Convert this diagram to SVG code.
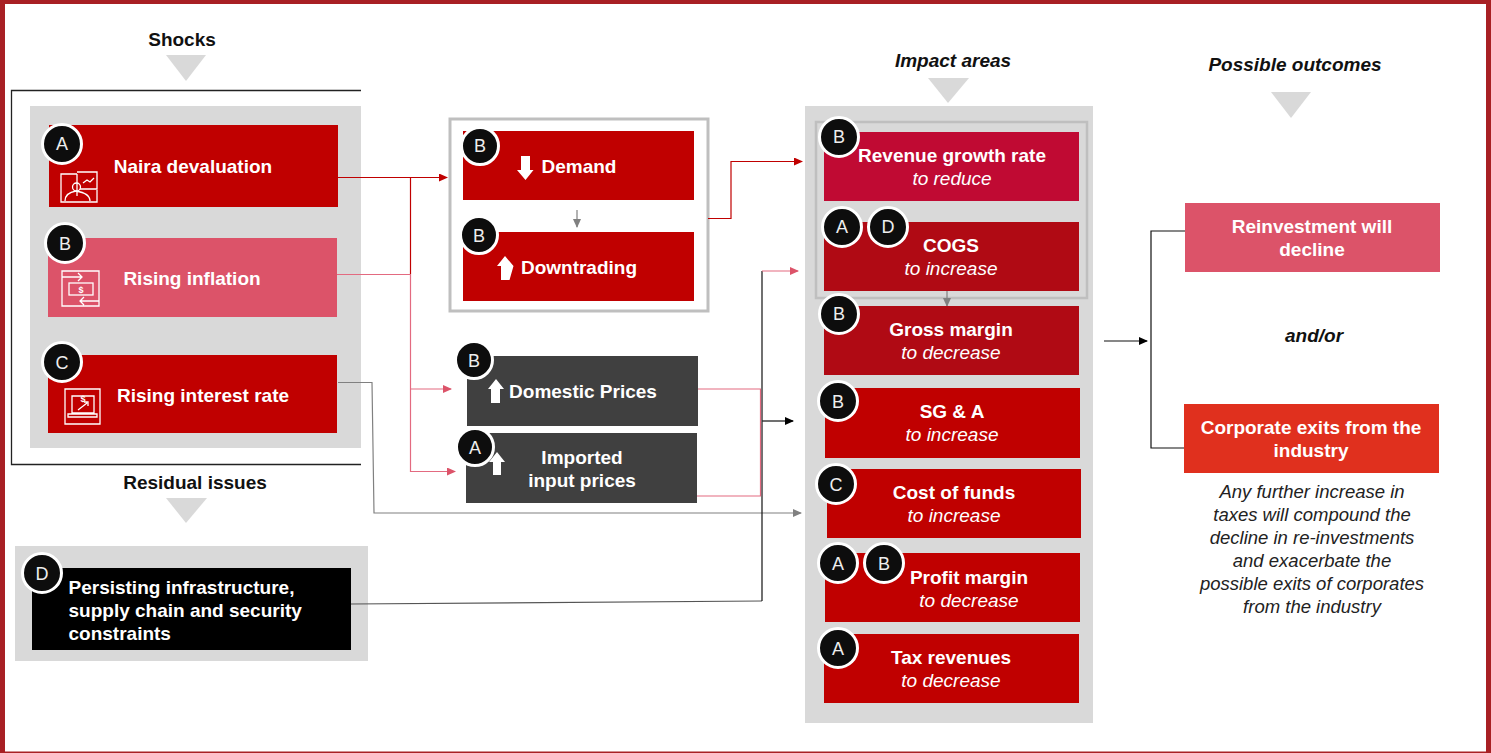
<svg xmlns="http://www.w3.org/2000/svg" width="1491" height="753" viewBox="0 0 1491 753">
<style>
text{font-family:"Liberation Sans",Arial,sans-serif;text-anchor:middle}
.h{font-size:19px;font-weight:700;fill:#111}
.hi{font-size:19px;font-weight:700;font-style:italic;fill:#111}
.w{font-size:19px;font-weight:700;fill:#fff}
.it{font-size:19px;font-style:italic;fill:#fff}
.note{font-size:18.5px;font-style:italic;fill:#222}
.panel{fill:#d9d9d9}
.tri{fill:#d9d9d9}
.red{fill:#c00000}
.dark{fill:#404040}
.pink{fill:#dc5369}
.dot{fill:#0d0d0d;stroke:#fff;stroke-width:3}
.dt{font-size:18px;fill:#eee}
.ic{fill:none;stroke:#fff;stroke-width:1.3}
.blk{fill:#fff}
.c{fill:none;stroke-width:1.2}
.cr{stroke:#c00000}.cp{stroke:#e36a80}.cg{stroke:#808080}.ck{stroke:#111}.cd{stroke:#555}
</style>
<defs>
<marker id="mr" markerWidth="9" markerHeight="8" refX="8" refY="4" orient="auto" markerUnits="userSpaceOnUse"><path d="M0 0L9 4L0 8Z" fill="#c00000"/></marker>
<marker id="mp" markerWidth="9" markerHeight="8" refX="8" refY="4" orient="auto" markerUnits="userSpaceOnUse"><path d="M0 0L9 4L0 8Z" fill="#dc5369"/></marker>
<marker id="mg" markerWidth="9" markerHeight="8" refX="8" refY="4" orient="auto" markerUnits="userSpaceOnUse"><path d="M0 0L9 4L0 8Z" fill="#808080"/></marker>
<marker id="mk" markerWidth="9" markerHeight="8" refX="8" refY="4" orient="auto" markerUnits="userSpaceOnUse"><path d="M0 0L9 4L0 8Z" fill="#000"/></marker>
</defs>
<rect width="1491" height="753" fill="#fff"/>
<g id="frame" fill="#a82024">
<rect x="0" y="0" width="1491" height="4"/><rect x="0" y="0" width="5" height="753"/><rect x="1486" y="0" width="5" height="753"/><rect x="0" y="751.500" width="1491" height="1.500"/>
</g>
<g id="headers">
<text class="h" x="182" y="46">Shocks</text><polygon class="tri" points="166,55 206,55 186,81"/>
<text class="h" x="195" y="489">Residual issues</text><polygon class="tri" points="166,498 207,498 186,523"/>
<text class="hi" x="953" y="67">Impact areas</text><polygon class="tri" points="928,78 969,78 948,103"/>
<text class="hi" x="1295" y="71">Possible outcomes</text><polygon class="tri" points="1271,92 1311,92 1291,118"/>
</g>
<g id="panels">
<path d="M361 90.500H11.500V464.500H361" fill="none" stroke="#222" stroke-width="1.300"/>
<rect class="panel" x="30" y="106" width="331" height="342"/>
<rect class="panel" x="15" y="546" width="353" height="115"/>
<rect x="450" y="119" width="258" height="192" fill="#fff" stroke="#bfbfbf" stroke-width="3"/>
<rect class="panel" x="805" y="106" width="288" height="617"/>
<rect x="816" y="122" width="271" height="176" fill="none" stroke="#bfbfbf" stroke-width="2.500"/>
</g>
<g id="connectors">
<path class="c cr" d="M338 177.500H447" marker-end="url(#mr)"/>
<path class="c cr" d="M410.500 177.500V274"/>
<path class="c cp" d="M337 274.500H410.500V471.500H455" marker-end="url(#mp)"/>
<path class="c cp" d="M410.500 389H451" marker-end="url(#mp)"/>
<path class="c cg" d="M338 382.500H372L374 513H801" marker-end="url(#mg)"/>
<path class="c cd" d="M351 604L762 601"/>
<path class="c ck" d="M762 601V271"/>
<path class="c cp" d="M762 271H798" marker-end="url(#mp)"/>
<path class="c ck" d="M762 421H793" marker-end="url(#mk)"/>
<path class="c cp" d="M698 389H761"/>
<path class="c cp" d="M697 496H760.500V389"/>
<path class="c cr" d="M708 218.500H731V161.500H802" marker-end="url(#mr)"/>
<path class="c cg" d="M577 210V227" marker-end="url(#mg)"/>
<path class="c cg" d="M947 290V306" marker-end="url(#mg)"/>
<path class="c ck" d="M1185 231H1151V448H1184"/>
<path class="c ck" d="M1104 341H1147" marker-end="url(#mk)"/>
</g>
<g id="n-naira"><rect class="red" x="49" y="125" width="289" height="82"/>
<path class="ic" d="M77 174H61V202H97V190M77 174V196M77 172H97V189H80M65 201C65 194 70 192 76 191C82 192 90 194 90 201M83 183L87 180L90 182L94 178"/><circle class="ic" cx="76.500" cy="187" r="4"/>
<text class="w" x="193" y="173">Naira devaluation</text><circle class="dot" cx="62" cy="144" r="19.500"/><text class="dt" x="62" y="150">A</text></g>
<g id="n-inflation"><rect class="pink" x="48" y="238" width="289" height="79"/>
<path class="ic" d="M62 271H99V306H62ZM62 277H82M78 273L82 277L78 281M99 301H80M84 297L80 301L84 305"/><rect class="ic" x="69" y="283" width="24" height="12"/>
<text x="81" y="293" font-size="9" font-weight="700" fill="#fff">$</text>
<text class="w" x="192" y="285">Rising inflation</text><circle class="dot" cx="65" cy="243" r="19.500"/><text class="dt" x="65" y="250">B</text></g>
<g id="n-interest"><rect class="red" x="48" y="355" width="289" height="78"/>
<path class="ic" d="M65 389H100V424H65ZM72 396H94V413H72ZM68 414H97V417H68ZM78 410L87 403M84 402L88 402L88 406"/>
<text x="83" y="402" font-size="9" font-weight="700" fill="#fff">$</text>
<text class="w" x="203" y="402">Rising interest rate</text><circle class="dot" cx="62" cy="362" r="19.500"/><text class="dt" x="62" y="369">C</text></g>
<g id="n-residual"><rect x="32" y="568" width="319" height="82" fill="#000"/>
<g class="w" style="text-anchor:start"><text class="w" x="68.500" y="594" style="text-anchor:start">Persisting infrastructure,</text><text class="w" x="68.500" y="617" style="text-anchor:start">supply chain and security</text><text class="w" x="68.500" y="640" style="text-anchor:start">constraints</text></g>
<circle class="dot" cx="42" cy="573" r="19.500"/><text class="dt" x="42" y="580">D</text></g>
<g id="n-demand"><rect class="red" x="463" y="131" width="231" height="69"/>
<polygon class="blk" points="521,156 530,156 530,170 533.500,170 525.500,180 517,170 521,170"/>
<text class="w" x="579" y="173">Demand</text><circle class="dot" cx="480" cy="146" r="18.500"/><text class="dt" x="480" y="152">B</text></g>
<g id="n-downtrading"><rect class="red" x="463" y="232" width="231" height="69"/>
<polygon class="blk" points="505,256 513.500,266 509.500,280 501,280 501,266 497,266" />
<text class="w" x="579" y="274">Downtrading</text><circle class="dot" cx="479" cy="235" r="18.500"/><text class="dt" x="479" y="242">B</text></g>
<g id="n-domestic"><rect class="dark" x="467" y="356" width="231" height="70"/>
<polygon class="blk" points="496,379 504,389 500,389 500,403 491,403 491,389 488,389"/>
<text class="w" x="583" y="398">Domestic Prices</text><circle class="dot" cx="474" cy="360" r="18.500"/><text class="dt" x="474" y="367">B</text></g>
<g id="n-imported"><rect class="dark" x="466" y="433" width="231" height="70"/>
<polygon class="blk" points="497,452 505,462 501,462 501,475 493,475 493,462 489,462"/>
<text class="w" x="582" y="464">Imported</text><text class="w" x="582" y="487">input prices</text><circle class="dot" cx="475" cy="447" r="18.500"/><text class="dt" x="475" y="454">A</text></g>
<g id="i-revenue"><rect x="824" y="132" width="255" height="69" fill="#c00a33"/><text class="w" x="952" y="162">Revenue growth rate</text><text class="it" x="952" y="185">to reduce</text><circle class="dot" cx="839" cy="137" r="19.500"/><text class="dt" x="839" y="143">B</text></g>
<g id="i-cogs"><rect x="824" y="222" width="255" height="69" fill="#b00a14"/><text class="w" x="951" y="252">COGS</text><text class="it" x="951" y="275">to increase</text><circle class="dot" cx="842" cy="227" r="19.500"/><text class="dt" x="842" y="233">A</text><circle class="dot" cx="888" cy="227" r="19.500"/><text class="dt" x="888" y="233">D</text></g>
<g id="i-gross"><rect x="824" y="306" width="255" height="69" fill="#b00a14"/><text class="w" x="951" y="336">Gross margin</text><text class="it" x="951" y="359">to decrease</text><circle class="dot" cx="839" cy="314" r="19.500"/><text class="dt" x="839" y="320">B</text></g>
<g id="i-sga"><rect class="red" x="825" y="388" width="255" height="70"/><text class="w" x="952" y="418">SG &amp; A</text><text class="it" x="952" y="441">to increase</text><circle class="dot" cx="838" cy="401" r="19.500"/><text class="dt" x="838" y="408">B</text></g>
<g id="i-funds"><rect class="red" x="827" y="469" width="254" height="69"/><text class="w" x="954" y="499">Cost of funds</text><text class="it" x="954" y="522">to increase</text><circle class="dot" cx="836" cy="484" r="19.500"/><text class="dt" x="836" y="491">C</text></g>
<g id="i-profit"><rect class="red" x="825" y="553" width="255" height="69"/><text class="w" x="969" y="584">Profit margin</text><text class="it" x="969" y="607">to decrease</text><circle class="dot" cx="838" cy="563" r="19.500"/><text class="dt" x="838" y="570">A</text><circle class="dot" cx="884" cy="563" r="19.500"/><text class="dt" x="884" y="570">B</text></g>
<g id="i-tax"><rect class="red" x="824" y="634" width="255" height="69"/><text class="w" x="951" y="664">Tax revenues</text><text class="it" x="951" y="687">to decrease</text><circle class="dot" cx="838" cy="648" r="19.500"/><text class="dt" x="838" y="655">A</text></g>
<g id="o-reinvest"><rect class="pink" x="1185" y="203" width="255" height="69"/><text class="w" x="1312" y="233">Reinvestment will</text><text class="w" x="1312" y="256">decline</text></g>
<text class="hi" x="1314" y="342">and/or</text>
<g id="o-exits"><rect x="1184" y="404" width="255" height="69" fill="#e0301e"/><text class="w" x="1311" y="434">Corporate exits from the</text><text class="w" x="1311" y="457">industry</text></g>
<g id="note"><text class="note" x="1312" y="498">Any further increase in</text><text class="note" x="1312" y="521">taxes will compound the</text><text class="note" x="1312" y="544">decline in re-investments</text><text class="note" x="1312" y="567">and exacerbate the</text><text class="note" x="1312" y="590">possible exits of corporates</text><text class="note" x="1312" y="613">from the industry</text></g>
</svg>
